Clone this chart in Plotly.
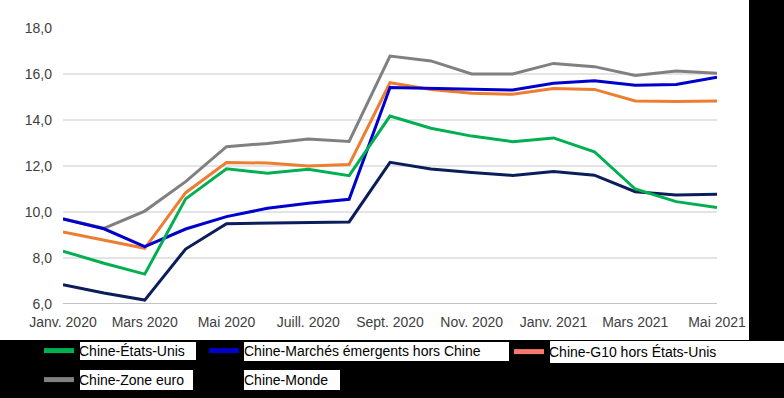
import plotly.graph_objects as go

months = ["Janv. 2020", "Févr. 2020", "Mars 2020", "Avr. 2020", "Mai 2020", "Juin 2020",
          "Juill. 2020", "Août 2020", "Sept. 2020", "Oct. 2020", "Nov. 2020", "Déc. 2020",
          "Janv. 2021", "Févr. 2021", "Mars 2021", "Avr. 2021", "Mai 2021"]
tick_labels = ["Janv. 2020", "Mars 2020", "Mai 2020", "Juill. 2020", "Sept. 2020",
               "Nov. 2020", "Janv. 2021", "Mars 2021", "Mai 2021"]

etats_unis = [8.30, 7.77, 7.30, 10.57, 11.88, 11.68, 11.86, 11.58, 14.17, 13.64, 13.30, 13.06,
              13.22, 12.62, 11.00, 10.45, 10.20]
marches_emergents = [9.70, 9.27, 8.49, 9.26, 9.80, 10.16, 10.38, 10.55, 15.41, 15.38, 15.35, 15.30,
                     15.60, 15.71, 15.51, 15.54, 15.86]
g10 = [9.13, 8.78, 8.42, 10.84, 12.15, 12.13, 12.00, 12.06, 15.62, 15.33, 15.16, 15.12,
       15.37, 15.33, 14.83, 14.80, 14.83]
zone_euro = [9.71, 9.29, 10.04, 11.32, 12.84, 12.98, 13.17, 13.07, 16.78, 16.57, 16.00, 16.00,
             16.46, 16.32, 15.94, 16.13, 16.03]
monde = [6.84, 6.48, 6.17, 8.39, 9.49, 9.52, 9.57, 9.57, 12.16, 11.87, 11.72, 11.59,
         11.76, 11.60, 10.88, 10.74, 10.77]

series = [
    ("Chine-États-Unis", etats_unis, "#00b050", "#00b050"),
    ("Chine-Marchés émergents hors Chine", marches_emergents, "#0000cc", "#0000cc"),
    ("Chine-G10 hors États-Unis", g10, "#ed7d31", "#f8786e"),
    ("Chine-Zone euro", zone_euro, "#808080", "#808080"),
    ("Chine-Monde", monde, "#0c1d5c", "#000000"),
]

W, H = 784, 398
L, R, T, B = 63, 67, 28, 94
PW, PH = W - L - R, H - T - B


def px(p):
    return (p - L) / PW


def py(p):
    return (H - B - p) / PH


fig = go.Figure()

# draw order: back to front
for name, vals, col, _ in [series[4], series[3], series[2], series[1], series[0]]:
    fig.add_trace(go.Scatter(x=months, y=vals, mode="lines", name=name,
                             line=dict(color=col, width=3), showlegend=False,
                             hoverinfo="skip"))

# legend positions (pixel): (legend id, left px, center y px)
legend_pos = [("legend", 39, 351), ("legend2", 204, 351), ("legend3", 509, 352),
              ("legend4", 39, 380), ("legend5", 204, 380)]

for (name, vals, col, lcol), (lid, lx, ly) in zip(series, legend_pos):
    fig.add_trace(go.Scatter(x=[None], y=[None], mode="lines", name=name,
                             line=dict(color=lcol, width=5), showlegend=True, legend=lid))

shapes = []


def rect(x0, y0, x1, y1, color):
    shapes.append(dict(type="rect", xref="paper", yref="paper",
                       x0=px(x0), x1=px(x1), y0=py(y1), y1=py(y0),
                       fillcolor=color, line=dict(width=0), layer="above"))


rect(-5, 340, 790, 402, "black")
rect(749, -5, 790, 341, "black")
rect(80, 342, 196, 360, "white")
rect(244, 342, 509, 361, "white")
rect(550, 341, 790, 363, "white")
rect(80, 370, 193, 390, "white")
rect(244, 370, 340, 390, "white")

layout_legends = {}
for lid, lx, ly in legend_pos:
    layout_legends[lid] = dict(x=px(lx), y=py(ly), xanchor="left", yanchor="middle",
                               bgcolor="rgba(0,0,0,0)", borderwidth=0,
                               font=dict(family="Liberation Sans, Arial", size=14, color="black"),
                               orientation="h", itemwidth=30)

fig.update_layout(
    width=W, height=H,
    margin=dict(l=L, r=R, t=T, b=B, autoexpand=False),
    paper_bgcolor="white", plot_bgcolor="white",
    separators=", ",
    font=dict(family="Liberation Sans, Arial", size=14, color="#404040"),
    shapes=shapes,
    **layout_legends,
)

fig.update_xaxes(type="category", categoryorder="array", categoryarray=months,
                 range=[0, len(months) - 1], tickvals=tick_labels, ticktext=tick_labels,
                 showgrid=False, showline=False, zeroline=False, ticks="",
                 tickangle=0, ticklabelstandoff=8, automargin=False,
                 tickfont=dict(size=14, color="#404040"))
fig.update_yaxes(range=[6, 18], dtick=2, tickformat=".1f", showgrid=True,
                 gridcolor="#e4e4e4", gridwidth=1.5, zeroline=False, showline=False,
                 ticks="", ticklabelstandoff=10, automargin=False,
                 tickfont=dict(size=14, color="#404040"))

# darker baseline at 6,0
fig.add_hline(y=6, line=dict(color="#c4c4c4", width=2), layer="below")

fig.write_html("out.html", config={"displayModeBar": False},
               post_script="document.body.style.margin='0';")
